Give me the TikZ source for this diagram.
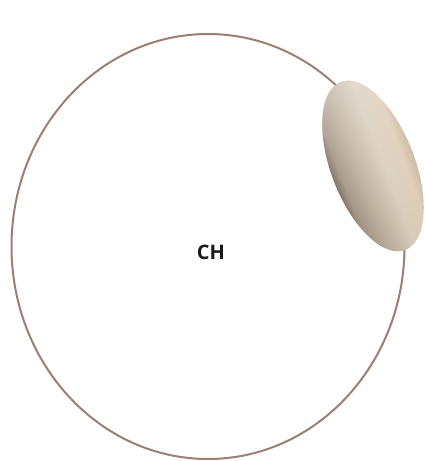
\documentclass[tikz,border=0pt]{standalone}
\usepackage{fontspec}
\newfontfamily\labelfont{Open Sans}
\usetikzlibrary{shapes.geometric,fadings}
\definecolor{ringcol}{HTML}{9A7F73}
\definecolor{bdark}{HTML}{706252}
\definecolor{bdk}{HTML}{9A8C7A}
\definecolor{bmid}{HTML}{B8AA97}
\definecolor{blight}{HTML}{D6CAB9}
\definecolor{btan}{HTML}{DCC9B3}
\definecolor{bedge}{HTML}{C3B099}
\pgfdeclarehorizontalshading{blobshade}{100bp}{color(0bp)=(bdark); color(25bp)=(bdark); color(30bp)=(bdk); color(41bp)=(bmid); color(56bp)=(blight); color(68bp)=(btan); color(75bp)=(bedge); color(100bp)=(bedge)}
\tikzset{
  ring/.style={ellipse, draw=ringcol, line width=2pt, inner sep=0pt, minimum width=393pt, minimum height=425pt},
  blob/.style={ellipse, shading=blobshade, inner sep=0pt, minimum width=84pt, minimum height=180pt},
  sheen/.style={ellipse, fill=white, fill opacity=0.3, path fading=south, inner sep=0pt, minimum width=84pt, minimum height=180pt},
  lbl/.style={font=\labelfont\bfseries\fontsize{20}{24}\selectfont, text=black!90}
}
\begin{document}
\begin{tikzpicture}[x=1pt,y=1pt]
\useasboundingbox (0,0) rectangle (425,-461);
\node[ring] (cell) at (208,-246.5) {};
\begin{scope}[transform canvas={shift={(373pt,-166pt)},rotate=21}]
\node[blob] (body) at (0,0) {};
\node[sheen] (bodysheen) at (0,0) {};
\end{scope}
\node[lbl] (ch) at (211,-252) {CH};
\end{tikzpicture}
\end{document}
